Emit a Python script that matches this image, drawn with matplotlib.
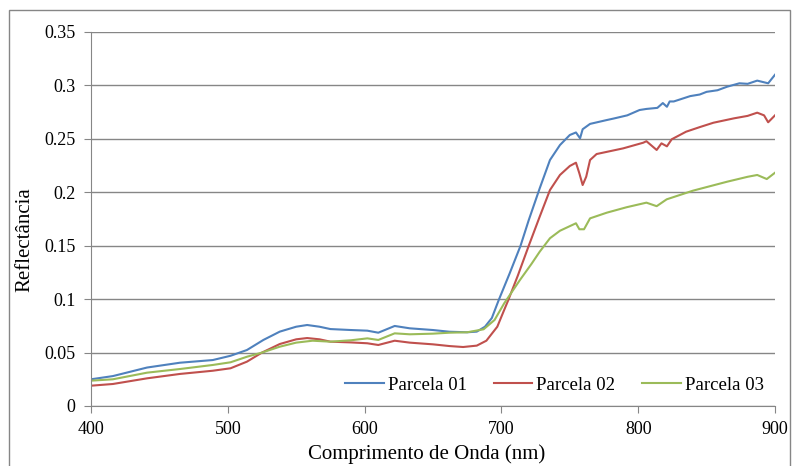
import matplotlib.pyplot as plt
from matplotlib.patches import Rectangle

# Parcela 01 (blue)
wl_01 = [400, 416, 441, 465, 489, 502, 514, 526, 538, 550, 558, 567, 575, 590, 602,
         610, 622, 633, 650, 662, 675, 682, 688, 693, 698, 706, 714, 720, 728, 735.5,
         742.8, 750, 754.5, 757.5, 759.4, 764.8, 777, 782, 792, 801, 806, 814, 818,
         821, 823, 826, 838, 845, 850, 858, 865, 874, 880, 887, 895, 900]
refl_01 = [0.025, 0.028, 0.036, 0.0405, 0.043, 0.047, 0.0524, 0.0618, 0.0696, 0.0742,
           0.0758, 0.0742, 0.072, 0.0711, 0.0705, 0.0686, 0.0749, 0.0727, 0.0711,
           0.0695, 0.069, 0.0696, 0.0742, 0.0823, 0.099, 0.124, 0.15, 0.174, 0.2037,
           0.2302, 0.2442, 0.2536, 0.256, 0.2505, 0.259, 0.264, 0.2676, 0.269, 0.272,
           0.277, 0.278, 0.279, 0.2835, 0.28, 0.285, 0.285, 0.29, 0.2915, 0.294,
           0.2955, 0.2988, 0.302, 0.3015, 0.3045, 0.302, 0.31]

# Parcela 02 (red)
wl_02 = [400, 416, 441, 465, 489, 502, 514, 525, 538, 550, 558, 567, 575, 590, 602,
         610, 622, 633, 650, 662, 672, 682, 689, 697, 702, 705, 712, 720, 728, 735.5,
         742.8, 750, 754.5, 757, 759.4, 762, 764.8, 769.6, 789, 803.7, 806, 813.5,
         817, 821, 824.5, 835, 845, 855, 870, 880, 887, 892, 895, 900]
refl_02 = [0.019, 0.0206, 0.0259, 0.03, 0.033, 0.0353, 0.0415, 0.05, 0.058, 0.0624,
           0.0636, 0.0624, 0.0602, 0.0595, 0.0587, 0.0571, 0.0611, 0.0593, 0.0577,
           0.0561, 0.0552, 0.0565, 0.0611, 0.0742, 0.0898, 0.099, 0.122, 0.15,
           0.1772, 0.2021, 0.2162, 0.2246, 0.2277, 0.2177, 0.2068, 0.2146, 0.2302,
           0.2358, 0.2411, 0.2464, 0.2478, 0.2396, 0.2458, 0.243, 0.2496, 0.2567,
           0.261, 0.2651, 0.2692, 0.2715, 0.2745, 0.272, 0.2655, 0.272]

# Parcela 03 (green)
wl_03 = [400, 416, 441, 465, 489, 502, 514, 525, 538, 550, 562, 575, 590, 602, 610,
         622, 633, 650, 662, 675, 687, 695, 702, 713.6, 722, 728, 735.5, 742.8,
         754.5, 757, 760.4, 764.8, 777, 791.5, 806, 813.5, 820.8, 840, 865, 880,
         887, 894, 900]
refl_03 = [0.0237, 0.025, 0.0312, 0.0346, 0.0384, 0.0409, 0.0461, 0.05, 0.0555,
           0.0593, 0.0611, 0.0602, 0.0615, 0.0633, 0.0618, 0.068, 0.0671, 0.0677,
           0.0686, 0.069, 0.0718, 0.0805, 0.096, 0.118, 0.133, 0.1444, 0.157,
           0.164, 0.171, 0.1654, 0.1654, 0.1756, 0.1809, 0.186, 0.1903, 0.187,
           0.1934, 0.2015, 0.2099, 0.2145, 0.2162, 0.2124, 0.2183]

labels = ['Parcela 01', 'Parcela 02', 'Parcela 03']
colors = ['#4F81BD', '#C0504D', '#9BBB59']

plt.rcParams['font.family'] = ['Liberation Serif', 'DejaVu Serif']

fig = plt.figure(figsize=(7.98, 4.66), dpi=100)
ax = fig.add_axes([91 / 798, 1 - 406 / 466, (775 - 91) / 798, (406 - 32) / 466])

for wl, refl, lab, col in zip([wl_01, wl_02, wl_03], [refl_01, refl_02, refl_03], labels, colors):
    ax.plot(wl, refl, color=col, linewidth=1.5, label=lab)

grid_col = '#868686'
ax.set_xlim(400, 900)
ax.set_ylim(0, 0.35)
ax.set_xticks([400, 500, 600, 700, 800, 900])
ax.set_yticks([0, 0.05, 0.1, 0.15, 0.2, 0.25, 0.3, 0.35])
ax.set_yticklabels(['0', '0.05', '0.1', '0.15', '0.2', '0.25', '0.3', '0.35'])
ax.yaxis.grid(True, color=grid_col, linewidth=1)
ax.set_axisbelow(True)
for s in ['top', 'right']:
    ax.spines[s].set_visible(False)
for s in ['left', 'bottom']:
    ax.spines[s].set_color(grid_col)
ax.tick_params(axis='both', color=grid_col, length=5, direction='out', labelsize=13, pad=6)

ax.set_xlabel('Comprimento de Onda (nm)', fontsize=15, va='baseline')
ax.xaxis.set_label_coords(0.4905, -0.1417)
ax.set_ylabel('Reflectância', fontsize=15, va='center')
ax.yaxis.set_label_coords(-0.0965, 0.444)

ax.legend(loc='center right', ncol=3, frameon=False, fontsize=13.5,
          handlelength=2.05, columnspacing=1.44, handletextpad=0.22,
          borderpad=0, borderaxespad=0, bbox_to_anchor=(0.984, 0.056))

fig.patches.append(Rectangle((9 / 798, -0.01), 781 / 798, 1.01 - 10 / 466,
                             transform=fig.transFigure, fill=False,
                             edgecolor=grid_col, linewidth=1))

fig.savefig('out.png', dpi=100)
